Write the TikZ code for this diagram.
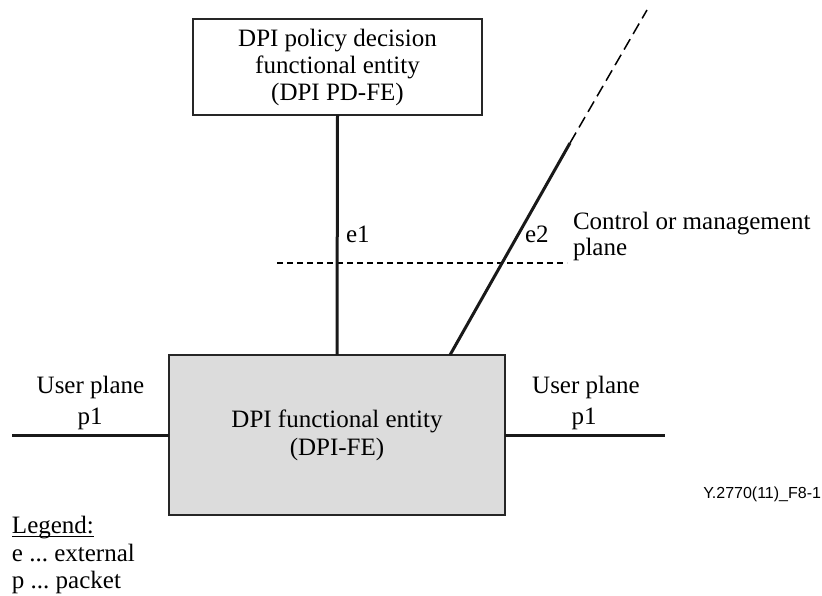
\documentclass[tikz,border=0pt]{standalone}
\usepackage{fontspec}
\setmainfont{Liberation Serif}
\setsansfont{Liberation Sans}
\frenchspacing
\begin{document}
\begin{tikzpicture}[x=1pt,y=-1pt,
  every node/.style={inner sep=0pt, outer sep=0pt},
  txt/.style={font=\fontsize{25}{28}\selectfont, align=center},
  boxa/.style={draw=black!85, line width=1.3pt},
  thickline/.style={line width=3pt, draw=black!90},
  planeline/.style={line width=1.4pt, dash pattern=on 6pt off 4pt},
  extline/.style={line width=1.5pt, dash pattern=on 12pt off 6pt}]
\useasboundingbox (0,0) rectangle (822,596);
% boxes
\node[boxa, minimum width=289pt, minimum height=96pt, txt, font=\fontsize{25}{27}\selectfont] (pd) at (337.5,67)
  {DPI policy decision\\functional entity\\(DPI PD-FE)};
\node[boxa, fill={rgb,255:red,220;green,220;blue,220}, minimum width=336pt, minimum height=160pt, txt] (fe) at (337,435)
  {DPI functional entity\\(DPI-FE)};
% coordinates
\coordinate (d1) at (570,143);
\coordinate (d2) at (647,10);
\coordinate (pl) at (12,435);
\coordinate (pr) at (665,435);
\coordinate (cl) at (277,263);
\coordinate (cr) at (567,263);
% control plane dashed line
\draw[planeline] (cl) -- (cr);
% e1
\draw[thickline] (pd.south) -- (fe.north);
% e2
\draw[thickline] ([xshift=281pt]fe.north west) -- (d1);
\draw[extline] (d1) -- (d2);
% p1 lines
\draw[thickline] (pl) -- (fe.west);
\draw[thickline] (fe.east) -- (pr);
% labels
\node[txt, anchor=base west] (e1) at (346,243) {e1};
\node[txt, anchor=base west] (e2) at (525,243) {e2};
\node[txt, anchor=base west, align=left, font=\fontsize{25}{25.5}\selectfont] (cp) at (573,255) {Control or management\\plane};
\node[txt, anchor=base] (upl) at (90.5,393) {User plane};
\node[txt, anchor=base] (ppl) at (90,424) {p1};
\node[txt, anchor=base] (upr) at (586,393) {User plane};
\node[txt, anchor=base] (ppr) at (584,424) {p1};
\node[anchor=base east, font=\sffamily\fontsize{16}{16}\selectfont] (ref) at (821,498) {Y.2770(11)\_F8-1};
\node[txt, anchor=base west] (lg) at (12,533) {Legend:};
\draw[line width=1pt] ([yshift=-3pt]lg.base west) -- ([yshift=-3pt]lg.base east);
\node[txt, anchor=base west] (le) at (12,561) {e ... external};
\node[txt, anchor=base west] (lp) at (12,588) {p ... packet};
\end{tikzpicture}
\end{document}
